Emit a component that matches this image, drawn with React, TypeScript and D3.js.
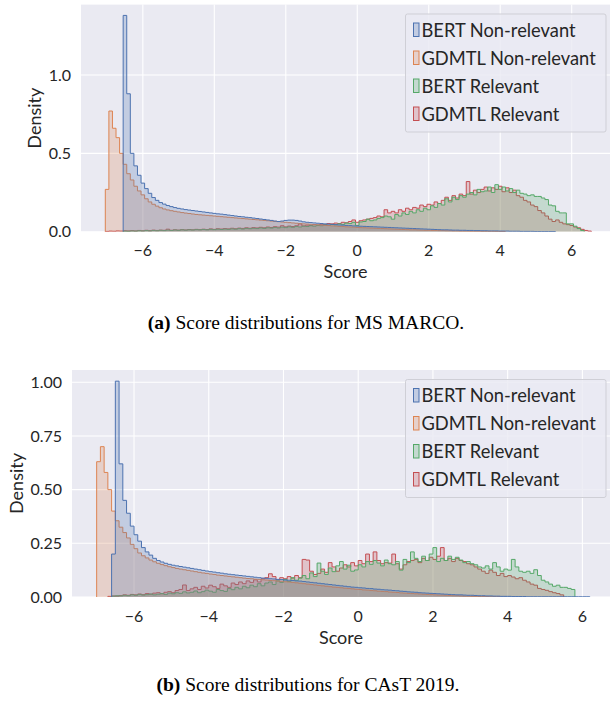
import React from 'react';
import * as d3 from 'd3';

// shared bins / labels
const BIN_WIDTH = 0.1;
const seriesNames = ['BERT Non-relevant', 'GDMTL Non-relevant', 'BERT Relevant', 'GDMTL Relevant'];
const seriesColors = ['#4c72b0', '#dd8452', '#55a868', '#c44e52'];
const xTicks = [-6, -4, -2, 0, 2, 4, 6];
const msmarcoYTicks = [0, 0.5, 1.0];
const castYTicks = [0, 0.25, 0.5, 0.75, 1.0];

// (a) MS MARCO: left edge of the first bin of each series, then densities per bin
const msmarcoStarts = [-6.55, -7.05, -6.55, -7.05];
const msmarcoBertNonRel = [
  1.38, 0.88, 0.5, 0.42, 0.36, 0.31, 0.275, 0.245, 0.218, 0.2,
  0.186, 0.176, 0.167, 0.16, 0.154, 0.149, 0.145, 0.141, 0.138, 0.135,
  0.132, 0.129, 0.126, 0.123, 0.12, 0.117, 0.114, 0.112, 0.109, 0.106,
  0.103, 0.1, 0.097, 0.095, 0.092, 0.09, 0.087, 0.084, 0.081, 0.078,
  0.075, 0.072, 0.068, 0.065, 0.068, 0.072, 0.074, 0.074, 0.072, 0.068,
  0.063, 0.06, 0.058, 0.056, 0.054, 0.052, 0.05, 0.048, 0.047, 0.045,
  0.043, 0.042, 0.04, 0.039, 0.037, 0.036, 0.035, 0.034, 0.033, 0.032,
  0.031, 0.03, 0.029, 0.028, 0.027, 0.026, 0.025, 0.024, 0.023, 0.022,
  0.021, 0.02, 0.019, 0.018, 0.017, 0.016, 0.015, 0.014, 0.013, 0.012,
  0.012, 0.011, 0.01, 0.01, 0.009, 0.009, 0.008, 0.008, 0.007, 0.007,
  0.006, 0.006, 0.005, 0.005, 0.005, 0.004, 0.004, 0.004, 0.003, 0.003,
  0.003, 0.002, 0.002, 0.002, 0.002, 0.001, 0.001, 0.001, 0.001, 0.001,
  0.001,
];
const msmarcoGdmtlNonRel = [
  0.27, 0.77, 0.66, 0.6, 0.5, 0.43, 0.37, 0.33, 0.29, 0.26,
  0.235, 0.21, 0.19, 0.175, 0.163, 0.153, 0.145, 0.139, 0.134, 0.13,
  0.126, 0.122, 0.119, 0.116, 0.113, 0.11, 0.108, 0.106, 0.104, 0.102,
  0.1, 0.098, 0.096, 0.094, 0.092, 0.09, 0.088, 0.086, 0.084, 0.082,
  0.08, 0.078, 0.076, 0.074, 0.072, 0.07, 0.068, 0.066, 0.064, 0.062,
  0.06, 0.058, 0.056, 0.054, 0.052, 0.05, 0.049, 0.047, 0.045, 0.044,
  0.042, 0.04, 0.039, 0.037, 0.036, 0.034, 0.033, 0.031, 0.03, 0.029,
  0.027, 0.026, 0.025, 0.024, 0.023, 0.022, 0.021, 0.02, 0.019, 0.018,
  0.017, 0.016, 0.015, 0.014, 0.013, 0.012, 0.012, 0.011, 0.01, 0.009,
  0.009, 0.008, 0.008, 0.007, 0.007, 0.006, 0.006, 0.005, 0.005, 0.004,
  0.004, 0.004, 0.003, 0.003, 0.003, 0.002, 0.002, 0.002, 0.002, 0.001,
  0.001, 0.001,
];
const msmarcoBertRel = [
  0.004, 0.003, 0.005, 0.004, 0.006, 0.005, 0.007, 0.005, 0.008, 0.006,
  0.009, 0.007, 0.01, 0.008, 0.011, 0.009, 0.012, 0.01, 0.012, 0.011,
  0.013, 0.012, 0.014, 0.012, 0.015, 0.013, 0.016, 0.014, 0.017, 0.015,
  0.018, 0.016, 0.02, 0.017, 0.021, 0.019, 0.022, 0.02, 0.024, 0.021,
  0.025, 0.023, 0.027, 0.024, 0.029, 0.026, 0.031, 0.028, 0.033, 0.03,
  0.035, 0.033, 0.038, 0.035, 0.04, 0.038, 0.043, 0.04, 0.046, 0.044,
  0.05, 0.047, 0.055, 0.052, 0.06, 0.04, 0.062, 0.065, 0.08, 0.07,
  0.075, 0.085, 0.09, 0.1, 0.095, 0.08, 0.11, 0.1, 0.12, 0.11,
  0.13, 0.12, 0.14, 0.13, 0.15, 0.14, 0.165, 0.155, 0.18, 0.17,
  0.21, 0.19, 0.22, 0.205, 0.23, 0.22, 0.24, 0.25, 0.235, 0.27,
  0.255, 0.26, 0.285, 0.25, 0.3, 0.27, 0.285, 0.26, 0.275, 0.25,
  0.265, 0.245, 0.24, 0.23, 0.235, 0.225, 0.225, 0.215, 0.205, 0.17,
  0.165, 0.13, 0.12, 0.12, 0.05, 0.05, 0.035, 0.02, 0.008,
];
const msmarcoGdmtlRel = [
  0.002, 0.004, 0.003, 0.005, 0.004, 0.006, 0.005, 0.007, 0.005, 0.008,
  0.006, 0.009, 0.007, 0.01, 0.008, 0.01, 0.009, 0.016, 0.009, 0.012,
  0.01, 0.013, 0.011, 0.014, 0.012, 0.015, 0.013, 0.016, 0.014, 0.018,
  0.015, 0.019, 0.017, 0.02, 0.018, 0.022, 0.019, 0.023, 0.021, 0.025,
  0.022, 0.026, 0.024, 0.028, 0.025, 0.03, 0.027, 0.032, 0.029, 0.038,
  0.031, 0.036, 0.033, 0.038, 0.05, 0.037, 0.042, 0.04, 0.045, 0.042,
  0.048, 0.045, 0.052, 0.05, 0.055, 0.052, 0.06, 0.057, 0.065, 0.075,
  0.06, 0.07, 0.075, 0.08, 0.085, 0.09, 0.1, 0.095, 0.14, 0.12,
  0.13, 0.12, 0.14, 0.13, 0.15, 0.14, 0.155, 0.15, 0.17, 0.16,
  0.175, 0.17, 0.19, 0.18, 0.2, 0.22, 0.2, 0.23, 0.215, 0.24,
  0.23, 0.32, 0.24, 0.265, 0.25, 0.27, 0.285, 0.26, 0.28, 0.27,
  0.29, 0.255, 0.28, 0.25, 0.265, 0.23, 0.22, 0.2, 0.19, 0.17,
  0.16, 0.135, 0.12, 0.1, 0.08, 0.065, 0.075, 0.06, 0.05, 0.045,
  0.04, 0.03, 0.025, 0.015, 0.008, 0.004,
];

// (b) CAsT 2019
const castStarts = [-6.6, -7.0, -6.6, -6.7];
const castBertNonRel = [
  0.2, 1.005, 0.62, 0.45, 0.39, 0.33, 0.29, 0.26, 0.23, 0.21,
  0.195, 0.18, 0.17, 0.163, 0.157, 0.152, 0.148, 0.145, 0.142, 0.139,
  0.136, 0.133, 0.13, 0.127, 0.124, 0.121, 0.118, 0.116, 0.113, 0.111,
  0.108, 0.106, 0.104, 0.102, 0.1, 0.098, 0.096, 0.094, 0.092, 0.09,
  0.088, 0.087, 0.085, 0.084, 0.082, 0.081, 0.079, 0.078, 0.077, 0.075,
  0.074, 0.072, 0.07, 0.068, 0.066, 0.064, 0.062, 0.06, 0.058, 0.056,
  0.054, 0.052, 0.05, 0.048, 0.046, 0.045, 0.043, 0.042, 0.04, 0.039,
  0.037, 0.036, 0.034, 0.033, 0.032, 0.03, 0.029, 0.027, 0.026, 0.024,
  0.023, 0.022, 0.02, 0.019, 0.018, 0.017, 0.016, 0.015, 0.014, 0.013,
  0.012, 0.011, 0.01, 0.01, 0.009, 0.008, 0.008, 0.007, 0.006, 0.006,
  0.005, 0.005, 0.004, 0.004, 0.003, 0.003, 0.003, 0.002, 0.002, 0.002,
  0.002, 0.001, 0.001, 0.001, 0.001, 0.001, 0.001, 0.001, 0.001, 0.001,
  0.001, 0.001, 0.001, 0.001, 0.001, 0.001, 0.001, 0.001,
];
const castGdmtlNonRel = [
  0.63, 0.7, 0.58, 0.5, 0.4, 0.355, 0.325, 0.3, 0.275, 0.245,
  0.225, 0.205, 0.192, 0.182, 0.172, 0.164, 0.157, 0.151, 0.146, 0.141,
  0.137, 0.133, 0.13, 0.127, 0.124, 0.121, 0.118, 0.115, 0.112, 0.11,
  0.107, 0.105, 0.102, 0.1, 0.098, 0.096, 0.094, 0.092, 0.09, 0.088,
  0.086, 0.085, 0.083, 0.082, 0.08, 0.079, 0.077, 0.076, 0.074, 0.073,
  0.071, 0.07, 0.068, 0.066, 0.064, 0.062, 0.06, 0.058, 0.056, 0.054,
  0.052, 0.05, 0.048, 0.046, 0.045, 0.043, 0.041, 0.04, 0.038, 0.036,
  0.035, 0.033, 0.032, 0.03, 0.029, 0.027, 0.026, 0.025, 0.023, 0.022,
  0.021, 0.019, 0.018, 0.017, 0.016, 0.015, 0.014, 0.013, 0.012, 0.011,
  0.01, 0.009, 0.009, 0.008, 0.007, 0.006, 0.006, 0.005, 0.004, 0.004,
  0.003, 0.003, 0.002, 0.002, 0.002, 0.001, 0.001, 0.001,
];
const castBertRel = [
  0.004, 0.006, 0.005, 0.008, 0.006, 0.01, 0.008, 0.012, 0.009, 0.011,
  0.014, 0.01, 0.013, 0.016, 0.012, 0.018, 0.015, 0.02, 0.017, 0.024,
  0.019, 0.022, 0.028, 0.02, 0.025, 0.032, 0.027, 0.022, 0.035, 0.03,
  0.026, 0.04, 0.034, 0.045, 0.038, 0.05, 0.043, 0.055, 0.048, 0.062,
  0.052, 0.065, 0.07, 0.058, 0.075, 0.068, 0.082, 0.072, 0.09, 0.078,
  0.088, 0.1, 0.085, 0.112, 0.095, 0.158, 0.12, 0.105, 0.135, 0.118,
  0.145, 0.165, 0.13, 0.148, 0.12, 0.126, 0.15, 0.14, 0.165, 0.152,
  0.17, 0.158, 0.145, 0.172, 0.155, 0.15, 0.165, 0.125, 0.175, 0.16,
  0.21, 0.18, 0.165, 0.19, 0.17, 0.2, 0.23, 0.165, 0.18, 0.17,
  0.19, 0.175, 0.185, 0.172, 0.16, 0.165, 0.155, 0.15, 0.14, 0.135,
  0.145, 0.13, 0.16, 0.14, 0.12, 0.13, 0.125, 0.175, 0.14, 0.12,
  0.115, 0.12, 0.11, 0.127, 0.1, 0.078, 0.07, 0.06, 0.05, 0.055,
  0.045, 0.045, 0.04, 0.035,
];
const castGdmtlRel = [
  0.003, 0.005, 0.004, 0.007, 0.01, 0.008, 0.012, 0.01, 0.014, 0.011,
  0.016, 0.013, 0.018, 0.02, 0.015, 0.022, 0.025, 0.02, 0.03, 0.035,
  0.056, 0.03, 0.038, 0.045, 0.035, 0.05, 0.042, 0.055, 0.048, 0.04,
  0.06, 0.052, 0.045, 0.065, 0.058, 0.07, 0.062, 0.075, 0.068, 0.08,
  0.07, 0.085, 0.09, 0.108, 0.095, 0.08, 0.09, 0.085, 0.095, 0.088,
  0.1, 0.09, 0.175, 0.172, 0.12, 0.105, 0.11, 0.13, 0.115, 0.16,
  0.14, 0.12, 0.135, 0.15, 0.14, 0.16, 0.145, 0.17, 0.155, 0.2,
  0.165, 0.21, 0.17, 0.155, 0.16, 0.158, 0.2, 0.155, 0.13, 0.15,
  0.165, 0.17, 0.175, 0.16, 0.18, 0.17, 0.185, 0.175, 0.19, 0.23,
  0.17, 0.18, 0.165, 0.18, 0.17, 0.165, 0.155, 0.15, 0.14, 0.13,
  0.12, 0.11, 0.125, 0.115, 0.1, 0.11, 0.095, 0.1, 0.093, 0.085,
  0.09, 0.078, 0.07, 0.06, 0.055, 0.04, 0.035, 0.031, 0.025, 0.02,
  0.016, 0.01,
];

const FONT = 'Lato, "Open Sans", sans-serif';
const INK = '#262626';

type Layout = {
  left: number; top: number; bottom: number;
  xMin: number; xMax: number; yMax: number;
  legendTop: number; labelX: number;
};

function stepPoints(start: number, values: number[]): [number, number][] {
  const pts: [number, number][] = [[start, 0]];
  values.forEach((v, i) => {
    pts.push([start + i * BIN_WIDTH, v]);
    pts.push([start + (i + 1) * BIN_WIDTH, v]);
  });
  pts.push([start + values.length * BIN_WIDTH, 0]);
  return pts;
}

function HistPanel({ layout, starts, series, yTicks, yFmt }: { layout: Layout; starts: number[]; series: number[][]; yTicks: number[]; yFmt: string }) {
  const { left, top, bottom, xMin, xMax, yMax, legendTop, labelX } = layout;
  const right = 610;
  const x = d3.scaleLinear().domain([xMin, xMax]).range([left, 616]);
  const y = d3.scaleLinear().domain([0, yMax]).range([bottom, top]);
  const lineGen = d3.line<[number, number]>().x(d => x(d[0])).y(d => y(d[1]));
  const fmtY = d3.format(yFmt);
  const fmtX = d3.format('d');
  const order = [3, 2, 1, 0]; // blue ends up on top
  const clipId = `clip-${Math.round(top)}`;

  return (
    <g>
      <defs>
        <clipPath id={clipId}>
          <rect x={left} y={top} width={right - left} height={bottom - top} />
        </clipPath>
      </defs>
      <rect x={left} y={top} width={right - left} height={bottom - top} fill="#eaeaf2" />
      {xTicks.map(t => (
        <line key={'gx' + t} x1={x(t)} x2={x(t)} y1={top} y2={bottom} stroke="#fff" strokeWidth={1.1} />
      ))}
      {yTicks.map(t => (
        <line key={'gy' + t} x1={left} x2={right} y1={y(t)} y2={y(t)} stroke="#fff" strokeWidth={1.1} />
      ))}
      <g clipPath={`url(#${clipId})`}>
        {order.map(k => {
          const d = lineGen(stepPoints(starts[k], series[k])) || '';
          return (
            <g key={k}>
              <path d={d} fill={seriesColors[k]} fillOpacity={0.25} stroke="none" />
              <path d={d} fill="none" stroke={seriesColors[k]} strokeWidth={1} />
            </g>
          );
        })}
      </g>
      {xTicks.map(t => (
        <text key={'tx' + t} x={x(t)} y={bottom + 24.5} textAnchor="middle" fontSize={16} fill={INK} fontFamily={FONT}>
          {fmtX(t)}
        </text>
      ))}
      {yTicks.map(t => (
        <text key={'ty' + t} x={left - 10} y={y(t)} dy="0.36em" textAnchor="end" fontSize={16} fill={INK} fontFamily={FONT}>
          {fmtY(t)}
        </text>
      ))}
      <text x={(left + right) / 2} y={bottom + 46.5} textAnchor="middle" fontSize={18} fill={INK} fontFamily={FONT}>Score</text>
      <text transform={`translate(${labelX},${(top + bottom) / 2}) rotate(-90)`} textAnchor="middle" fontSize={18} fill={INK} fontFamily={FONT}>Density</text>
      <g transform={`translate(405.5,${legendTop})`}>
        <rect x={0} y={0} width={200.5} height={118} rx={2} fill="#eaeaf2" fillOpacity={0.8} stroke="#cfcfd6" />
        {seriesNames.map((n, i) => (
          <g key={n} transform={`translate(0,${16 + i * 28})`}>
            <rect x={8} y={-7} width={5.5} height={13.5} fill={seriesColors[i]} fillOpacity={0.25} stroke={seriesColors[i]} strokeWidth={1} />
            <text x={16} y={0} dy="0.36em" fontSize={18.3} fill={INK} fontFamily={FONT}>{n}</text>
          </g>
        ))}
      </g>
    </g>
  );
}

const msmarcoLayout: Layout = { left: 81, top: 4.6, bottom: 231.7, xMin: -7.73, xMax: 7.24, yMax: 1.449, legendTop: 14, labelX: 41 };
const castLayout: Layout = { left: 72, top: 370, bottom: 597, xMin: -7.66, xMax: 6.9, yMax: 1.057, legendTop: 379.5, labelX: 23 };

export default function App() {
  return (
    <svg width={610} height={711} style={{ position: 'absolute', left: 0, top: 0, background: '#fff' }}>
      <HistPanel layout={msmarcoLayout} starts={msmarcoStarts} yTicks={msmarcoYTicks} yFmt=".1f"
        series={[msmarcoBertNonRel, msmarcoGdmtlNonRel, msmarcoBertRel, msmarcoGdmtlRel]} />
      <HistPanel layout={castLayout} starts={castStarts} yTicks={castYTicks} yFmt=".2f"
        series={[castBertNonRel, castGdmtlNonRel, castBertRel, castGdmtlRel]} />
      <text x={306} y={329} textAnchor="middle" fontSize={19.5} fill="#000" fontFamily='"Liberation Serif", serif'>
        <tspan fontWeight="bold">(a)</tspan> Score distributions for MS MARCO.
      </text>
      <text x={308} y={691} textAnchor="middle" fontSize={19.5} fill="#000" fontFamily='"Liberation Serif", serif'>
        <tspan fontWeight="bold">(b)</tspan> Score distributions for CAsT 2019.
      </text>
    </svg>
  );
}
